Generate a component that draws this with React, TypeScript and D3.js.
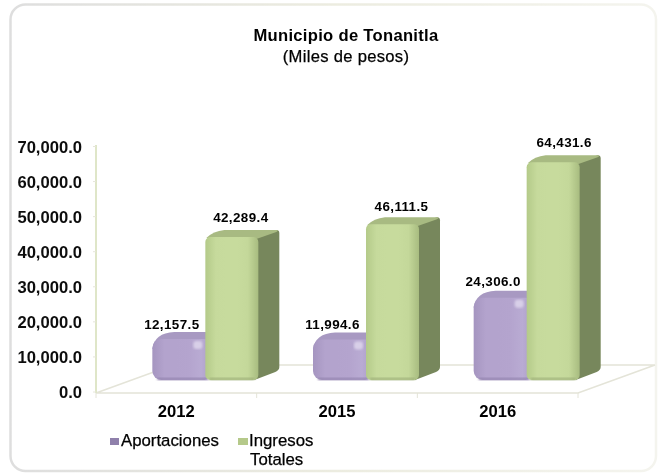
import React, { useEffect, useRef } from 'react';
import * as d3 from 'd3';

const categories = ['2012', '2015', '2016'];
const seriesNames = ['Aportaciones', 'Ingresos Totales'];
const aportaciones = [12157.5, 11994.6, 24306.0];
const ingresos = [42289.4, 46111.5, 64431.6];
const yTicks = [0, 10000, 20000, 30000, 40000, 50000, 60000, 70000];

const W = 660;
const H = 473;
const DEPTH_X = 21;
const DEPTH_Y = 7;
const fmt = d3.format(',.1f');
const FONT = '"Liberation Sans", Arial, sans-serif';

// the labels in the picture were nudged by hand in the original, per bar
const labelDx = [[-7, 9], [-7, 9], [-7, 11]];
const labelDy = [[-15, -20], [-15, -18], [-17, -20]];

const App = () => {
    const ref = useRef<SVGSVGElement | null>(null);

    useEffect(() => {
        const svg = d3.select(ref.current);
        svg.selectAll('*').remove();

        const axisY = d3.scaleLinear().domain([0, 70000]).range([392, 146.5]);
        const barY = d3.scaleLinear().domain([0, 70000]).range([380, 143.4]);
        const x0 = d3.scaleBand().domain(categories).range([96, 578]);
        const x1 = d3.scaleBand().domain(seriesNames).range([-24, 82]);

        const defs = svg.append('defs');
        const blur = defs.append('filter').attr('id', 'soft');
        blur.append('feGaussianBlur').attr('stdDeviation', 0.5);
        const blur2 = defs.append('filter').attr('id', 'softer');
        blur2.append('feGaussianBlur').attr('stdDeviation', 1.2);

        const grad = (id: string, stops: string[]) => {
            const g = defs.append('linearGradient').attr('id', id);
            stops.forEach((c, i) =>
                g.append('stop').attr('offset', i / (stops.length - 1)).attr('stop-color', c)
            );
        };
        grad('greenFront', ['#b4ca89', '#c6da9c', '#c7db9d', '#c7db9d', '#c4d89a', '#a8bc80']);
        grad('purpleFront', ['#a595c0', '#b3a3cd', '#b3a3cd', '#b4a4ce', '#b9abd3', '#a99ac5']);
        grad('card', ['#dedede', '#ecece0', '#f4f4ee']);

        // card
        svg.append('rect')
            .attr('x', 10.5).attr('y', 4.5)
            .attr('width', 645.5).attr('height', 466.5)
            .attr('rx', 15)
            .attr('fill', '#fff')
            .attr('stroke', 'url(#card)')
            .attr('stroke-width', 2.5);

        const root = svg.append('g').attr('filter', 'url(#soft)');

        // floor
        const floor = d3.line();
        root.append('path')
            .attr('d', floor([[96, 393], [173, 365], [655, 365], [578, 393], [96, 393]]))
            .attr('fill', 'none')
            .attr('stroke', '#e4e4d8')
            .attr('stroke-width', 1.6);

        // y axis
        const yAxis = root.append('g');
        yAxis.append('line')
            .attr('x1', 96).attr('x2', 96)
            .attr('y1', 145).attr('y2', 393)
            .attr('stroke', '#dfe6c8')
            .attr('stroke-width', 2);
        yAxis.selectAll('line.tick').data(yTicks).enter().append('line')
            .attr('class', 'tick')
            .attr('x1', 93).attr('x2', 96)
            .attr('y1', d => axisY(d)).attr('y2', d => axisY(d))
            .attr('stroke', '#e6e6da');
        yAxis.selectAll('text').data(yTicks).enter().append('text')
            .attr('x', 82)
            .attr('y', d => axisY(d) + 6)
            .attr('text-anchor', 'end')
            .attr('font-family', FONT)
            .attr('font-weight', 'bold')
            .attr('font-size', 16.6)
            .attr('fill', '#111')
            .text(d => fmt(d));

        // category ticks
        const catTicks = [96, ...categories.map(d => x0(d)! + x0.bandwidth())];
        root.selectAll('line.cat').data(catTicks).enter().append('line')
            .attr('class', 'cat')
            .attr('x1', d => d).attr('x2', d => d)
            .attr('y1', 393).attr('y2', 398)
            .attr('stroke', '#e4e4d8');
        root.selectAll('text.cat').data(categories).enter().append('text')
            .attr('class', 'cat')
            .attr('x', d => x0(d)! + x0.bandwidth() / 2)
            .attr('y', 417)
            .attr('text-anchor', 'middle')
            .attr('font-family', FONT)
            .attr('font-weight', 'bold')
            .attr('font-size', 16.6)
            .attr('fill', '#000')
            .text(d => d);

        // green bars, square-ish with a side face
        const drawGreen = (cat: string, value: number) => {
            const x = x0(cat)! + x0.bandwidth() / 2 + x1(seriesNames[1])!;
            const w = x1.bandwidth();
            const y = barY(value);
            const b = barY(0);
            const g = root.append('g');
            g.append('path')
                .attr('d', `M${x + w - 3},${y} L${x + w + DEPTH_X - 3},${y - DEPTH_Y} Q${x + w + DEPTH_X},${y - DEPTH_Y} ${x + w + DEPTH_X},${y - DEPTH_Y + 3} L${x + w + DEPTH_X},${b - 13} Q${x + w + DEPTH_X},${b - 10} ${x + w + DEPTH_X - 4},${b - 8} L${x + w - 4},${b} Z`)
                .attr('fill', '#77875b');
            g.append('path')
                .attr('d', `M${x + 1},${y + 1} Q${x + 8},${y - DEPTH_Y + 1} ${x + DEPTH_X - 2},${y - DEPTH_Y} L${x + w + DEPTH_X - 3},${y - DEPTH_Y} Q${x + w + DEPTH_X},${y - DEPTH_Y} ${x + w + DEPTH_X - 3},${y - DEPTH_Y + 2} L${x + w - 2},${y + 2} Z`)
                .attr('fill', '#a8ba82');
            g.append('rect')
                .attr('x', x).attr('y', y)
                .attr('width', w).attr('height', b - y)
                .attr('rx', 5)
                .attr('fill', 'url(#greenFront)');
            // soft rim along the foot
            g.append('rect')
                .attr('x', x + 4).attr('y', b - 2)
                .attr('width', w - 8).attr('height', 2)
                .attr('fill', '#9cae78')
                .attr('filter', 'url(#softer)');
        };

        // purple bars, heavily rounded and mostly hidden on the right by the green one
        const drawPurple = (cat: string, value: number) => {
            const x = x0(cat)! + x0.bandwidth() / 2 + x1(seriesNames[0])!;
            const w = x1.bandwidth() + 8;
            const y = barY(value);
            const b = barY(0);
            const g = root.append('g');
            g.append('path')
                .attr('d', `M${x},${y + 10} Q${x + 2},${y - DEPTH_Y + 1} ${x + 22},${y - DEPTH_Y} L${x + w},${y - DEPTH_Y} L${x + w},${y + 10} Z`)
                .attr('fill', '#a899c2');
            g.append('rect')
                .attr('x', x).attr('y', y)
                .attr('width', w).attr('height', b - y)
                .attr('rx', 9)
                .attr('fill', 'url(#purpleFront)');
            // glint near the top right of the rounded edge
            g.append('rect')
                .attr('x', x + 41).attr('y', y + 2)
                .attr('width', 9).attr('height', 8)
                .attr('rx', 3)
                .attr('fill', '#d8cfe8')
                .attr('filter', 'url(#softer)');
            g.append('rect')
                .attr('x', x + 5).attr('y', b - 2)
                .attr('width', w - 10).attr('height', 2)
                .attr('fill', '#9181ad')
                .attr('filter', 'url(#softer)');
        };

        categories.forEach((c, i) => {
            drawPurple(c, aportaciones[i]);
            drawGreen(c, ingresos[i]);
        });

        // value labels
        const labels = (values: number[], name: string, idx: number) => {
            root.selectAll(`text.v${idx}`).data(values).enter().append('text')
                .attr('class', `v${idx}`)
                .attr('x', (d, i) => x0(categories[i])! + x0.bandwidth() / 2 + x1(name)! + x1.bandwidth() / 2 + labelDx[i][idx])
                .attr('y', (d, i) => barY(d) + labelDy[i][idx] + 5)
                .attr('text-anchor', 'middle')
                .attr('font-family', FONT)
                .attr('font-weight', 'bold')
                .attr('font-size', 13.4)
                .attr('letter-spacing', 0.4)
                .attr('fill', '#000')
                .text(d => fmt(d));
        };
        labels(aportaciones, seriesNames[0], 0);
        labels(ingresos, seriesNames[1], 1);

        // title
        const title = root.append('g')
            .attr('font-family', FONT)
            .attr('text-anchor', 'middle')
            .attr('fill', '#000');
        title.append('text').attr('x', 346).attr('y', 41)
            .attr('font-weight', 'bold').attr('font-size', 16.6).attr('letter-spacing', 0.3)
            .text('Municipio de Tonanitla');
        title.append('text').attr('x', 346).attr('y', 62)
            .attr('font-size', 16.6).attr('letter-spacing', 0.3)
            .attr('stroke', '#000').attr('stroke-width', 0.25)
            .text('(Miles de pesos)');

        // legend
        const legend = root.append('g')
            .attr('font-family', FONT)
            .attr('font-size', 16.8)
            .attr('fill', '#000')
            .attr('stroke', '#000')
            .attr('stroke-width', 0.25);
        legend.append('rect').attr('x', 110).attr('y', 438).attr('width', 9).attr('height', 7)
            .attr('fill', '#8f80ab').attr('stroke', 'none');
        legend.append('text').attr('x', 121).attr('y', 446).text('Aportaciones');
        legend.append('rect').attr('x', 238).attr('y', 438).attr('width', 10).attr('height', 7)
            .attr('fill', '#b5c98a').attr('stroke', 'none');
        legend.append('text').attr('x', 249).attr('y', 446).text('Ingresos');
        legend.append('text').attr('x', 250).attr('y', 465).text('Totales');
    }, []);

    return <svg ref={ref} width={W} height={H} style={{ position: 'absolute', left: 0, top: 0 }} />;
};

export default App;
